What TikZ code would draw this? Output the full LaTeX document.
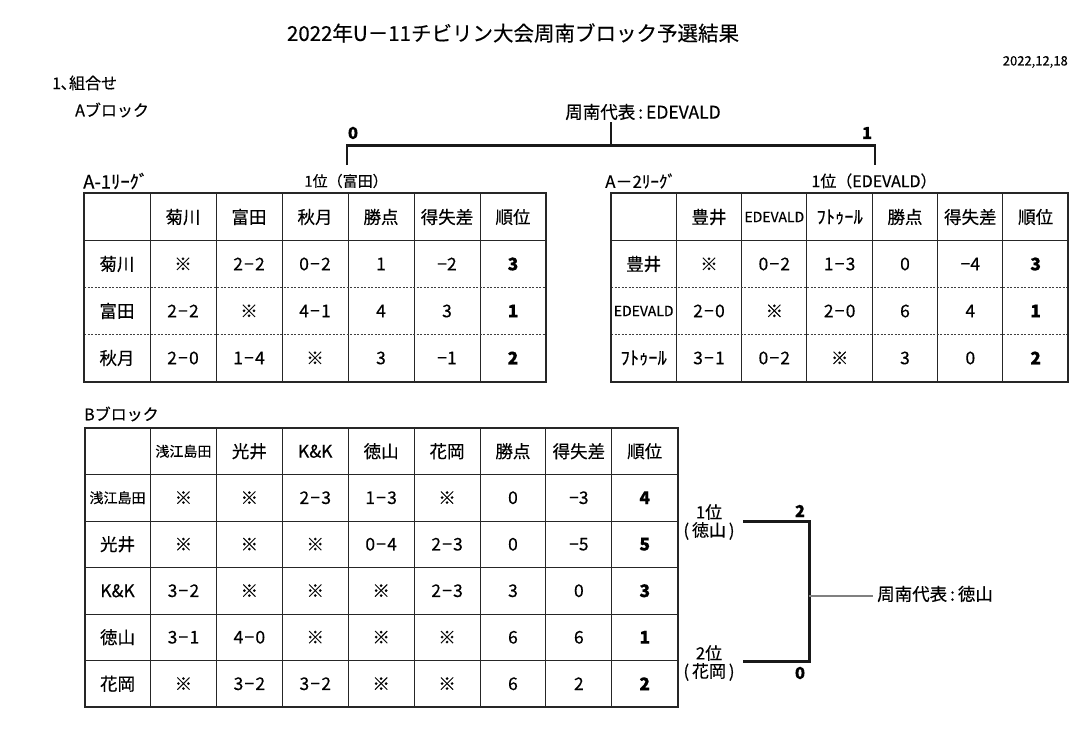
\documentclass[tikz,border=0pt]{standalone}
\usepackage{fontspec}
\setmainfont{Noto Sans CJK JP}[FakeBold=0.35]
\newcommand\dsh{\kern1.2pt−\kern1.2pt}
\begin{document}
\begin{tikzpicture}[x=1pt,y=-1pt,
  lbl/.style={inner sep=0pt,font=\fontsize{16}{18}\selectfont},
  cell/.style={inner sep=0pt,font=\fontsize{17.5}{19}\selectfont},
  score/.style={inner sep=0pt,font=\fontsize{16.5}{18}\selectfont\bfseries},
  innerline/.style={line width=1pt,black!85},
  outerline/.style={line width=2pt,black!85},
  dotrow/.style={line width=1pt,black!75,dash pattern=on 2pt off 1.5pt},
  brk/.style={line width=2.5pt,black!90},
  brkB/.style={line width=3pt,black!90},
  stem/.style={line width=1.5pt,black!90},
  grayline/.style={line width=1.2pt,black!50},
]
\useasboundingbox (0,0) rectangle (1085,752);
\fill[white] (0,0) rectangle (1085,752);

% ---- headings
\node[inner sep=0pt,font=\fontsize{20.5}{24}\selectfont] (title) at (513,33) {2022年U－11チビリン大会周南ブロック予選結果};
\node[inner sep=0pt,anchor=east,font=\fontsize{13}{15}\selectfont] (date) at (1068,62) {2022,12,18};
\node[lbl,anchor=west] (sec1) at (52,83) {1､組合せ};
\node[lbl,anchor=west] (ablk) at (75,110) {Aブロック};
\node[lbl,anchor=west] (bblk) at (84,414) {Bブロック};

% ---- A bracket
\node[lbl,font=\fontsize{17.5}{19}\selectfont] (arep) at (643,112) {周南代表\,:\,EDEVALD};
\coordinate (aTop) at (611,122);
\coordinate (aMid) at (611,145.7);
\coordinate (aL) at (347,145.7);
\coordinate (aLb) at (347,165);
\coordinate (aR) at (875,145.7);
\coordinate (aRb) at (875,165);
\draw[brk] (aLb) -- (aL) -- (aR) -- (aRb);
\draw[stem] (aTop) -- (aMid);
\node[score] (as0) at (353,133) {0};
\node[score] (as1) at (867,133) {1};
\node[lbl,anchor=west,font=\fontsize{18.5}{20}\selectfont] (a1lab) at (83,181) {A-1ﾘｰｸﾞ};
\node[lbl,font=\fontsize{15}{17}\selectfont] (a1win) at (346,181) {1位（富田）};
\node[lbl,anchor=west,font=\fontsize{17}{20}\selectfont] (a2lab) at (605,181) {A－2ﾘｰｸﾞ};
\node[lbl,font=\fontsize{16}{18}\selectfont] (a2win) at (874,181) {1位（EDEVALD）};

% ---- Table A-1
\foreach \i in {1,...,6} \draw[innerline] ({84+\i*66},193) -- ({84+\i*66},381.5);
\draw[innerline] (84,240.5) -- (546,240.5);
\foreach \y in {287.5,334.5} \draw[dotrow] (84,\y) -- (546,\y);
\draw[outerline] (84,193) rectangle (546,381.5);
\foreach \t [count=\i from 0] in {,菊川,富田,秋月,勝点,得失差,順位}
  \node[cell] (aoh\i) at ({84+(\i+0.5)*66},217) {\t};
\foreach \t [count=\i from 0] in {菊川,※,2\dsh2,0\dsh2,1,−2,\textbf{3}}
  \node[cell] (aoa\i) at ({84+(\i+0.5)*66},264) {\t};
\foreach \t [count=\i from 0] in {富田,2\dsh2,※,4\dsh1,4,3,\textbf{1}}
  \node[cell] (aob\i) at ({84+(\i+0.5)*66},311) {\t};
\foreach \t [count=\i from 0] in {秋月,2\dsh0,1\dsh4,※,3,−1,\textbf{2}}
  \node[cell] (aoc\i) at ({84+(\i+0.5)*66},358) {\t};

% ---- Table A-2
\foreach \i in {1,...,6} \draw[innerline] ({611+\i*65.33},193) -- ({611+\i*65.33},381.5);
\draw[innerline] (611,240.5) -- (1068.3,240.5);
\foreach \y in {287.5,334.5} \draw[dotrow] (611,\y) -- (1068.3,\y);
\draw[outerline] (611,193) rectangle (1068.3,381.5);
\foreach \t [count=\i from 0] in {,豊井,{\fontsize{14}{16}\selectfont EDEVALD},{\fontsize{18.5}{20}\selectfont ﾌﾄｩｰﾙ},勝点,得失差,順位}
  \node[cell] (ath\i) at ({611+(\i+0.5)*65.33},217) {\t};
\foreach \t [count=\i from 0] in {豊井,※,0\dsh2,1\dsh3,0,−4,\textbf{3}}
  \node[cell] (ata\i) at ({611+(\i+0.5)*65.33},264) {\t};
\foreach \t [count=\i from 0] in {{\fontsize{14}{16}\selectfont EDEVALD},2\dsh0,※,2\dsh0,6,4,\textbf{1}}
  \node[cell] (atb\i) at ({611+(\i+0.5)*65.33},311) {\t};
\foreach \t [count=\i from 0] in {{\fontsize{18.5}{20}\selectfont ﾌﾄｩｰﾙ},3\dsh1,0\dsh2,※,3,0,\textbf{2}}
  \node[cell] (atc\i) at ({611+(\i+0.5)*65.33},358) {\t};

% ---- Table B
\foreach \i in {1,...,8} \draw[innerline] ({84.6+\i*65.9},428) -- ({84.6+\i*65.9},707);
\foreach \y in {474.5,521,567.5,614,660.5} \draw[innerline] (84.6,\y) -- (677.7,\y);
\draw[outerline] (84.6,428) rectangle (677.7,707);
\foreach \t [count=\i from 0] in {,{\fontsize{14}{16}\selectfont 浅江島田},光井,K\&K,徳山,花岡,勝点,得失差,順位}
  \node[cell] (bh\i) at ({84.6+(\i+0.5)*65.9},451.25) {\t};
\foreach \t [count=\i from 0] in {{\fontsize{14}{16}\selectfont 浅江島田},※,※,2\dsh3,1\dsh3,※,0,−3,\textbf{4}}
  \node[cell] (ba\i) at ({84.6+(\i+0.5)*65.9},497.75) {\t};
\foreach \t [count=\i from 0] in {光井,※,※,※,0\dsh4,2\dsh3,0,−5,\textbf{5}}
  \node[cell] (bb\i) at ({84.6+(\i+0.5)*65.9},544.25) {\t};
\foreach \t [count=\i from 0] in {K\&K,3\dsh2,※,※,※,2\dsh3,3,0,\textbf{3}}
  \node[cell] (bc\i) at ({84.6+(\i+0.5)*65.9},590.75) {\t};
\foreach \t [count=\i from 0] in {徳山,3\dsh1,4\dsh0,※,※,※,6,6,\textbf{1}}
  \node[cell] (bd\i) at ({84.6+(\i+0.5)*65.9},637.25) {\t};
\foreach \t [count=\i from 0] in {花岡,※,3\dsh2,3\dsh2,※,※,6,2,\textbf{2}}
  \node[cell] (be\i) at ({84.6+(\i+0.5)*65.9},683.75) {\t};

% ---- B bracket
\coordinate (b1a) at (743,521.5);
\coordinate (b1b) at (809,521.5);
\coordinate (b2b) at (809,661.5);
\coordinate (b2a) at (743,661.5);
\coordinate (bm) at (809,596);
\draw[brkB] (b1a) -- (b1b) -- (b2b) -- (b2a);
\node[lbl,anchor=west,font=\fontsize{17.5}{19}\selectfont] (brep) at (877,594) {周南代表\,:\,徳山};
\draw[grayline] (bm) -- ([xshift=-4pt]brep.west |- bm);
\node[score] (bs2) at (800,511) {2};
\node[score] (bs0) at (800,673) {0};
\node[lbl,font=\fontsize{17}{19}\selectfont] (b1rank) at (709,512) {1位};
\node[lbl,font=\fontsize{17}{19}\selectfont] (b1team) at (709,531) {(\,徳山\,)};
\node[lbl,font=\fontsize{17}{19}\selectfont] (b2rank) at (709,653) {2位};
\node[lbl,font=\fontsize{17}{19}\selectfont] (b2team) at (709,672) {(\,花岡\,)};
\end{tikzpicture}
\end{document}
